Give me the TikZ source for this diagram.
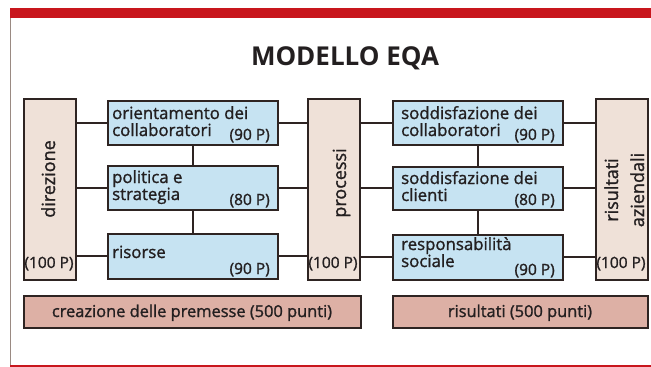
\documentclass[tikz,border=0pt]{standalone}
\usepackage{fontspec}
\setmainfont{Open Sans}
\newfontfamily\medfont{Open Sans}[FakeBold=1.3]
\definecolor{bandred}{HTML}{C8161D}
\definecolor{framegray}{HTML}{9A8A82}
\definecolor{edge}{HTML}{2E2422}
\definecolor{beige}{HTML}{EFE1D8}
\definecolor{lblue}{HTML}{C6E3F2}
\definecolor{rose}{HTML}{DDB0A5}
\definecolor{ink}{HTML}{231F20}
\begin{document}
\begin{tikzpicture}[x=1pt,y=-1pt,
  box/.style={draw=edge, line width=1.5pt, inner sep=0pt, anchor=north west},
  conn/.style={draw=edge, line width=2pt},
  txt/.style={text=ink, inner sep=0pt, anchor=base west, font=\medfont\fontsize{16.8}{18}\selectfont},
  pts/.style={text=ink, inner sep=0pt, anchor=base east, font=\medfont\fontsize{15.5}{17}\selectfont},
  ctxt/.style={text=ink, inner sep=0pt, anchor=base, font=\medfont\fontsize{16.4}{18}\selectfont},
  vtxt/.style={text=ink, inner sep=0pt, anchor=base, rotate=90, font=\medfont\fontsize{18}{20}\selectfont}]
\useasboundingbox (0,0) rectangle (651,367);
% frame
\fill[bandred] (10,8) rectangle (651,18);
\fill[bandred] (10,365) rectangle (651,367);
\draw[framegray, line width=1pt] (10,18) -- (10,365);
% title
\node[text=ink, inner sep=0pt, anchor=base, font=\bfseries\fontsize{26}{30}\selectfont] (title) at (345,65) {MODELLO EQA};
% boxes
\node[box, fill=beige, minimum width=52, minimum height=181] (dir) at (23,98) {};
\node[box, fill=lblue, minimum width=170, minimum height=44] (b1) at (107,100) {};
\node[box, fill=lblue, minimum width=170, minimum height=44] (b2) at (107,165) {};
\node[box, fill=lblue, minimum width=170, minimum height=45] (b3) at (107,233) {};
\node[box, fill=beige, minimum width=52, minimum height=181] (proc) at (307,98) {};
\node[box, fill=lblue, minimum width=170, minimum height=44] (c1) at (392,100) {};
\node[box, fill=lblue, minimum width=170, minimum height=43] (c2) at (392,166) {};
\node[box, fill=lblue, minimum width=170, minimum height=45] (c3) at (392,234) {};
\node[box, fill=beige, minimum width=52, minimum height=181] (ris) at (595,98) {};
\node[box, fill=rose, minimum width=337, minimum height=32] (pre) at (23,295) {};
\node[box, fill=rose, minimum width=255, minimum height=32] (res) at (392,295) {};
% connectors
\draw[conn] (dir.east |- b1.west) -- (b1.west);
\draw[conn] (dir.east |- b2.west) -- (b2.west);
\draw[conn] (dir.east |- b3.west) -- (b3.west);
\draw[conn] (b1.east) -- (proc.west |- b1.east);
\draw[conn] (b2.east) -- (proc.west |- b2.east);
\draw[conn] (b3.east) -- (proc.west |- b3.east);
\draw[conn] (proc.east |- c1.west) -- (c1.west);
\draw[conn] (proc.east |- c2.west) -- (c2.west);
\draw[conn] (proc.east |- c3.west) -- (c3.west);
\draw[conn] (c1.east) -- (ris.west |- c1.east);
\draw[conn] (c2.east) -- (ris.west |- c2.east);
\draw[conn] (c3.east) -- (ris.west |- c3.east);
\draw[conn] (b1.south) -- (b2.north);
\draw[conn] (b2.south) -- (b3.north);
\draw[conn] (c1.south) -- (c2.north);
\draw[conn] (c2.south) -- (c3.north);
% vertical labels
\node[vtxt] (dirt) at (55,179) {direzione};
\node[vtxt] (proct) at (346,183) {processi};
\node[vtxt] (rist1) at (618,190) {risultati};
\node[vtxt] (rist2) at (644,190) {aziendali};
\node[pts, anchor=base] (dirp) at (49,268) {(100 P)};
\node[pts, anchor=base] (procp) at (333,268) {(100 P)};
\node[pts, anchor=base] (risp) at (621,268) {(100 P)};
% left texts
\node[txt] (b1a) at (112,119) {orientamento dei};
\node[txt] (b1b) at (112,136) {collaboratori};
\node[pts] (b1p) at (270,140) {(90 P)};
\node[txt] (b2a) at (112,183) {politica e};
\node[txt] (b2b) at (112,200) {strategia};
\node[pts] (b2p) at (270,205) {(80 P)};
\node[txt] (b3a) at (112,258) {risorse};
\node[pts] (b3p) at (270,274) {(90 P)};
% right texts
\node[txt] (c1a) at (401,119) {soddisfazione dei};
\node[txt] (c1b) at (401,136) {collaboratori};
\node[pts] (c1p) at (555,140) {(90 P)};
\node[txt] (c2a) at (401,184) {soddisfazione dei};
\node[txt] (c2b) at (401,201) {clienti};
\node[pts] (c2p) at (555,205) {(80 P)};
\node[txt] (c3a) at (401,250) {responsabilità};
\node[txt] (c3b) at (401,267) {sociale};
\node[pts] (c3p) at (555,275) {(90 P)};
% bottom texts
\node[ctxt] (pret) at (192,317) {creazione delle premesse (500 punti)};
\node[ctxt] (rest) at (520,317) {risultati (500 punti)};
\end{tikzpicture}
\end{document}
